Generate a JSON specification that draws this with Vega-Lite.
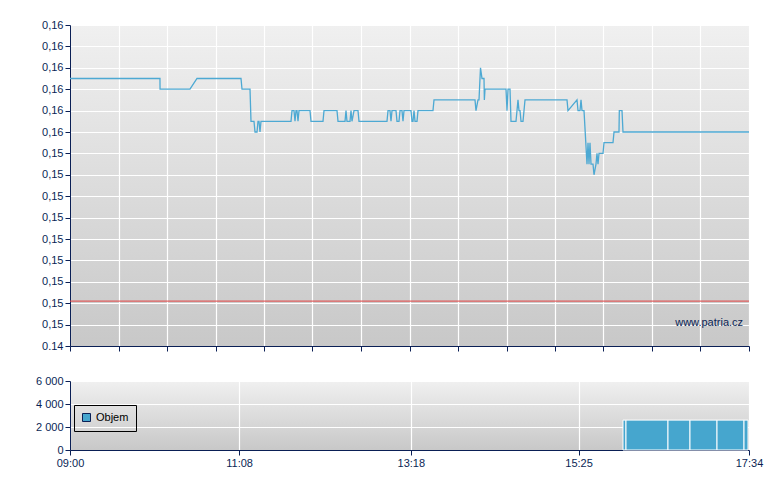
{
  "$schema": "https://vega.github.io/schema/vega-lite/v6.json",
  "padding": {"left": 35, "top": 19, "right": 20, "bottom": 10},
  "bounds": "flush",
  "spacing": 35,
  "config": {
    "font": "Liberation Sans",
    "view": {"stroke": null, "fill": {"gradient": "linear", "x1": 0, "y1": 0, "x2": 0, "y2": 1, "stops": [{"offset": 0, "color": "#f0f0f0"}, {"offset": 1, "color": "#c8c8c8"}]}},
    "axis": {"domainColor": "#0a1f55", "tickColor": "#0a1f55", "labelColor": "#0a1f55", "labelFontSize": 11, "labelFont": "Liberation Sans", "gridColor": "#ffffff", "gridWidth": 1.2, "gridOpacity": 1, "tickSize": 5, "domainWidth": 1, "labelPadding": 2, "title": null, "tickCount": 40, "labelOverlap": false}
  },
  "vconcat": [
    {
      "width": 679,
      "height": 321,
      "layer": [
        {
          "data": {"values": [
            {"t":"09:00:00","p":0.1577},{"t":"10:08:06","p":0.1577},{"t":"10:08:10","p":0.1572},{"t":"10:30:50","p":0.1572},{"t":"10:36:08","p":0.1577},{"t":"11:09:27","p":0.1577},{"t":"11:10:12","p":0.1572},{"t":"11:16:16","p":0.1572},{"t":"11:17:01","p":0.1557},{"t":"11:19:17","p":0.1557},{"t":"11:20:03","p":0.1552},{"t":"11:21:34","p":0.1552},{"t":"11:22:19","p":0.1557},{"t":"11:23:04","p":0.1557},{"t":"11:23:50","p":0.1552},{"t":"11:24:35","p":0.1557},{"t":"11:47:18","p":0.1557},{"t":"11:48:03","p":0.1562},{"t":"11:49:34","p":0.1562},{"t":"11:50:20","p":0.1557},{"t":"11:51:05","p":0.1562},{"t":"11:51:50","p":0.1562},{"t":"11:52:36","p":0.1557},{"t":"11:53:21","p":0.1562},{"t":"12:01:41","p":0.1562},{"t":"12:02:26","p":0.1557},{"t":"12:11:31","p":0.1557},{"t":"12:12:17","p":0.1562},{"t":"12:22:07","p":0.1562},{"t":"12:22:53","p":0.1557},{"t":"12:28:11","p":0.1557},{"t":"12:28:56","p":0.1562},{"t":"12:29:41","p":0.1557},{"t":"12:31:58","p":0.1557},{"t":"12:32:43","p":0.1562},{"t":"12:33:28","p":0.1557},{"t":"12:34:59","p":0.1562},{"t":"12:38:01","p":0.1562},{"t":"12:38:46","p":0.1557},{"t":"12:59:58","p":0.1557},{"t":"13:00:44","p":0.1562},{"t":"13:02:14","p":0.1562},{"t":"13:03:00","p":0.1557},{"t":"13:03:45","p":0.1562},{"t":"13:06:47","p":0.1562},{"t":"13:07:32","p":0.1557},{"t":"13:09:03","p":0.1557},{"t":"13:09:49","p":0.1562},{"t":"13:11:19","p":0.1562},{"t":"13:12:05","p":0.1557},{"t":"13:12:50","p":0.1562},{"t":"13:18:08","p":0.1562},{"t":"13:18:53","p":0.1557},{"t":"13:19:39","p":0.1557},{"t":"13:20:25","p":0.1562},{"t":"13:21:10","p":0.1557},{"t":"13:22:41","p":0.1557},{"t":"13:23:26","p":0.1562},{"t":"13:34:47","p":0.1562},{"t":"13:35:33","p":0.1567},{"t":"14:06:35","p":0.1567},{"t":"14:07:20","p":0.1562},{"t":"14:08:51","p":0.1567},{"t":"14:09:37","p":0.1567},{"t":"14:10:45","p":0.1582},{"t":"14:11:53","p":0.1577},{"t":"14:13:24","p":0.1577},{"t":"14:13:40","p":0.1567},{"t":"14:14:10","p":0.1572},{"t":"14:30:03","p":0.1572},{"t":"14:30:49","p":0.1562},{"t":"14:31:34","p":0.1572},{"t":"14:33:05","p":0.1572},{"t":"14:33:50","p":0.1557},{"t":"14:37:37","p":0.1557},{"t":"14:38:23","p":0.1562},{"t":"14:39:08","p":0.1567},{"t":"14:39:53","p":0.1562},{"t":"14:40:39","p":0.1562},{"t":"14:41:25","p":0.1557},{"t":"14:42:55","p":0.1557},{"t":"14:43:41","p":0.1562},{"t":"14:44:26","p":0.1567},{"t":"15:16:14","p":0.1567},{"t":"15:16:59","p":0.1562},{"t":"15:23:48","p":0.1567},{"t":"15:24:33","p":0.1562},{"t":"15:26:04","p":0.1562},{"t":"15:26:50","p":0.1567},{"t":"15:27:35","p":0.1562},{"t":"15:29:06","p":0.1562},{"t":"15:31:22","p":0.1537},{"t":"15:32:08","p":0.1547},{"t":"15:32:53","p":0.1537},{"t":"15:33:38","p":0.1547},{"t":"15:34:24","p":0.1537},{"t":"15:35:55","p":0.1537},{"t":"15:36:40","p":0.1532},{"t":"15:38:11","p":0.1537},{"t":"15:38:56","p":0.1542},{"t":"15:39:42","p":0.1537},{"t":"15:40:27","p":0.1542},{"t":"15:43:29","p":0.1542},{"t":"15:44:14","p":0.1547},{"t":"15:51:03","p":0.1547},{"t":"15:51:49","p":0.1552},{"t":"15:55:35","p":0.1552},{"t":"15:55:50","p":0.1562},{"t":"15:57:52","p":0.1562},{"t":"15:58:37","p":0.1552},{"t":"17:34:00","p":0.1552}
          ], "format": {"parse": {"t": "date:'%H:%M:%S'"}}},
          "mark": {"type": "line", "color": "#4da9d3", "strokeWidth": 1.3, "interpolate": "linear"},
          "encoding": {
            "x": {"field": "t", "type": "temporal",
              "scale": {"domain": [{"year":1900,"month":1,"date":1,"hours":9,"minutes":0}, {"year":1900,"month":1,"date":1,"hours":17,"minutes":34}], "nice": false},
              "axis": {"labels": false, "values": [
                {"year":1900,"month":1,"date":1,"hours":9,"minutes":0,"seconds":0},
                {"year":1900,"month":1,"date":1,"hours":9,"minutes":36,"seconds":43},
                {"year":1900,"month":1,"date":1,"hours":10,"minutes":13,"seconds":26},
                {"year":1900,"month":1,"date":1,"hours":10,"minutes":50,"seconds":9},
                {"year":1900,"month":1,"date":1,"hours":11,"minutes":26,"seconds":51},
                {"year":1900,"month":1,"date":1,"hours":12,"minutes":3,"seconds":34},
                {"year":1900,"month":1,"date":1,"hours":12,"minutes":40,"seconds":17},
                {"year":1900,"month":1,"date":1,"hours":13,"minutes":17,"seconds":0},
                {"year":1900,"month":1,"date":1,"hours":13,"minutes":53,"seconds":43},
                {"year":1900,"month":1,"date":1,"hours":14,"minutes":30,"seconds":26},
                {"year":1900,"month":1,"date":1,"hours":15,"minutes":7,"seconds":9},
                {"year":1900,"month":1,"date":1,"hours":15,"minutes":43,"seconds":51},
                {"year":1900,"month":1,"date":1,"hours":16,"minutes":20,"seconds":34},
                {"year":1900,"month":1,"date":1,"hours":16,"minutes":57,"seconds":17},
                {"year":1900,"month":1,"date":1,"hours":17,"minutes":34,"seconds":0}
              ]}},
            "y": {"field": "p", "type": "quantitative",
              "scale": {"domain": [0.1452, 0.1602], "nice": false, "zero": false},
              "axis": {"values": [0.1452,0.1462,0.1472,0.1482,0.1492,0.1502,0.1512,0.1522,0.1532,0.1542,0.1552,0.1562,0.1572,0.1582,0.1592,0.16019],
                "labelExpr": "datum.value < 0.1455 ? '0.14' : replace(format(datum.value, '.2f'), '.', ',')"}}
          }
        },
        {
          "data": {"values": [{"ref": 0.1473}]},
          "mark": {"type": "rule", "color": "#e04a4a", "strokeWidth": 1.2, "opacity": 0.85},
          "encoding": {"y": {"field": "ref", "type": "quantitative"}}
        },
        {
          "data": {"values": [{"label": "www.patria.cz", "t": "17:29:30", "p": 0.14627}], "format": {"parse": {"t": "date:'%H:%M:%S'"}}},
          "mark": {"type": "text", "align": "right", "baseline": "middle", "fontSize": 11, "color": "#0a1f55", "font": "Liberation Sans"},
          "encoding": {
            "x": {"field": "t", "type": "temporal"},
            "y": {"field": "p", "type": "quantitative"},
            "text": {"field": "label"}
          }
        }
      ]
    },
    {
      "width": 679,
      "height": 69,
      "data": {"values": [
        {"s":"15:58:37","e":"16:00:53","v":2600},
        {"s":"16:00:53","e":"16:32:41","v":2600},
        {"s":"16:32:41","e":"16:49:20","v":2600},
        {"s":"16:49:20","e":"17:09:47","v":2600},
        {"s":"17:09:47","e":"17:30:13","v":2600},
        {"s":"17:30:13","e":"17:33:15","v":2600}
      ], "format": {"parse": {"s": "date:'%H:%M:%S'", "e": "date:'%H:%M:%S'"}}},
      "mark": {"type": "rect", "stroke": "#ffffff", "strokeWidth": 1},
      "encoding": {
        "x": {"field": "s", "type": "temporal",
          "scale": {"domain": [{"year":1900,"month":1,"date":1,"hours":9,"minutes":0}, {"year":1900,"month":1,"date":1,"hours":17,"minutes":34}], "nice": false},
          "axis": {"format": "%H:%M", "labelFlush": false, "values": [
            {"year":1900,"month":1,"date":1,"hours":9,"minutes":0},
            {"year":1900,"month":1,"date":1,"hours":11,"minutes":8},
            {"year":1900,"month":1,"date":1,"hours":13,"minutes":18},
            {"year":1900,"month":1,"date":1,"hours":15,"minutes":25},
            {"year":1900,"month":1,"date":1,"hours":17,"minutes":34}
          ]}},
        "x2": {"field": "e"},
        "y": {"field": "v", "type": "quantitative",
          "scale": {"domain": [0, 6000], "nice": false},
          "axis": {"values": [0, 2000, 4000, 6000], "labelExpr": "replace(format(datum.value, ','), ',', ' ')"}},
        "y2": {"datum": 0},
        "color": {"datum": "Objem", "type": "nominal", "scale": {"range": ["#46a6ce"]},
          "legend": {"title": null, "orient": "none", "legendX": 4, "legendY": 380, "strokeColor": "#000000", "padding": 7, "symbolType": "square", "symbolSize": 64, "symbolStrokeColor": "#0a1f55", "symbolStrokeWidth": 1, "labelFontSize": 11, "labelColor": "#000000", "labelFont": "Liberation Sans", "labelOffset": 4}}
      }
    }
  ]
}
